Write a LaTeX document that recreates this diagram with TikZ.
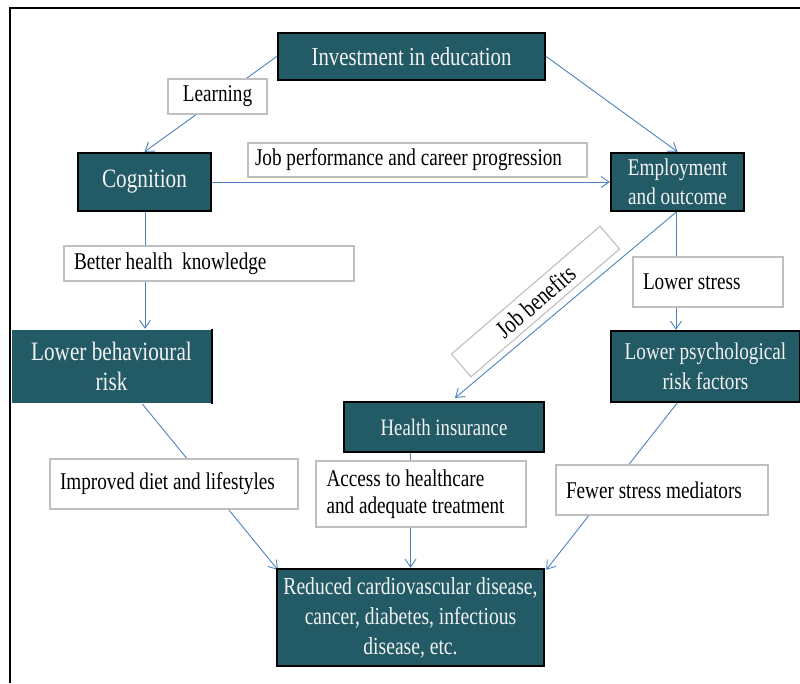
\documentclass[tikz,border=0pt]{standalone}
\usepackage{fontspec}
\setmainfont[FakeStretch=0.8]{Liberation Serif}
\usetikzlibrary{arrows.meta,backgrounds,calc}
\definecolor{teal}{HTML}{225A65}
\definecolor{arrowblue}{HTML}{4F81BD}
\definecolor{boxgray}{HTML}{BFBFBF}
\definecolor{txtlight}{HTML}{F2F2F2}
\tikzset{
  darkbox/.style={rectangle, fill=teal, draw=black, line width=2.4pt, inner sep=0pt,
    text=txtlight, align=center},
  lightbox/.style={rectangle, fill=white, draw=boxgray, line width=1.1pt, inner sep=0pt,
    font={\fontsize{24}{27}\selectfont}},
  link/.style={draw=arrowblue, line width=0.9pt, -{Straight Barb[length=8pt,width=11pt,line width=0.9pt]}},
}
\begin{document}
\begin{tikzpicture}[x=1pt,y=-1pt]
\useasboundingbox (0,0) rectangle (800,683);
% frame
\draw[line width=2.6pt] (800,8) -- (10,8) -- (10,683);

% dark boxes
\node[darkbox, minimum width=267, minimum height=47, font={\fontsize{26}{30}\selectfont}] (inv) at (411.5,56.5) {Investment in education};
\node[darkbox, minimum width=133, minimum height=58, font={\fontsize{26.5}{30}\selectfont}] (cog) at (144.5,182) {Cognition};
\node[darkbox, minimum width=133, minimum height=58, font={\fontsize{24}{29}\selectfont}] (emp) at (677.5,182) {Employment\\and outcome};
\node[darkbox, draw=none, minimum width=199, minimum height=73, font={\fontsize{26.5}{30}\selectfont}] (lbr) at (111.5,366.5) {Lower behavioural\\risk};
\draw[line width=2.4pt] (lbr.north east) -- (lbr.south east);
\node[darkbox, minimum width=189, minimum height=71, font={\fontsize{24}{30}\selectfont}] (lpr) at (705.5,366.5) {Lower psychological\\risk factors};
\node[darkbox, minimum width=200, minimum height=50, font={\fontsize{23.5}{28}\selectfont}] (hi) at (444,427) {Health insurance};
\node[darkbox, minimum width=267, minimum height=97, font={\fontsize{24.5}{30}\selectfont}] (red) at (410.5,617.5) {Reduced cardiovascular disease,\\cancer, diabetes, infectious\\disease, etc.};

% light boxes
\node[lightbox, minimum width=99, minimum height=35] (learn) at (217.5,96.5) {Learning};
\node[lightbox, minimum width=339, minimum height=34, text width=325, align=flush left] (job) at (417.5,160) {Job performance and career progression};
\node[lightbox, minimum width=290, minimum height=35, text width=270, align=flush left] (bhk) at (209,263.5) {Better health\ \ knowledge};
\node[lightbox, minimum width=150, minimum height=50, text width=130, align=flush left] (ls) at (708,282) {Lower stress};
\node[lightbox, minimum width=248, minimum height=50, text width=228, align=flush left] (diet) at (174,484) {Improved diet and lifestyles};
\node[lightbox, minimum width=210, minimum height=66, text width=189, align=flush left] (acc) at (421,494) {Access to healthcare\\and adequate treatment};
\node[lightbox, minimum width=212, minimum height=50, text width=192, align=flush left] (few) at (662,490) {Fewer stress mediators};
\node[lightbox, minimum width=196, minimum height=30, rotate=40.7, font={\fontsize{25}{27}\selectfont}] (jb) at (535.5,301.5) {Job benefits};

% connectors
\coordinate (hitgt) at (455,398);
\begin{scope}[on background layer]
\draw[link] (inv.west) -- (cog.north);
\draw[link] (inv.east) -- (emp.north);
\draw[link] (cog.east) -- (emp.west);
\draw[link] ([xshift=0.5]cog.south) -- ([xshift=0.5]cog.south |- lbr.north);
\draw[link] ([xshift=-1.5]emp.south) -- ([xshift=-1.5]emp.south |- lpr.north);
\draw[link] ([xshift=-1.5]emp.south) -- (hitgt);
\draw[link] ([xshift=31]lbr.south) -- ([xshift=2,yshift=-2]red.north west);
\draw[link] (red.north |- hi.south) -- (red.north);
\draw[link] ([xshift=-28.5]lpr.south) -- ([xshift=1,yshift=-2]red.north east);
\end{scope}
\end{tikzpicture}
\end{document}
